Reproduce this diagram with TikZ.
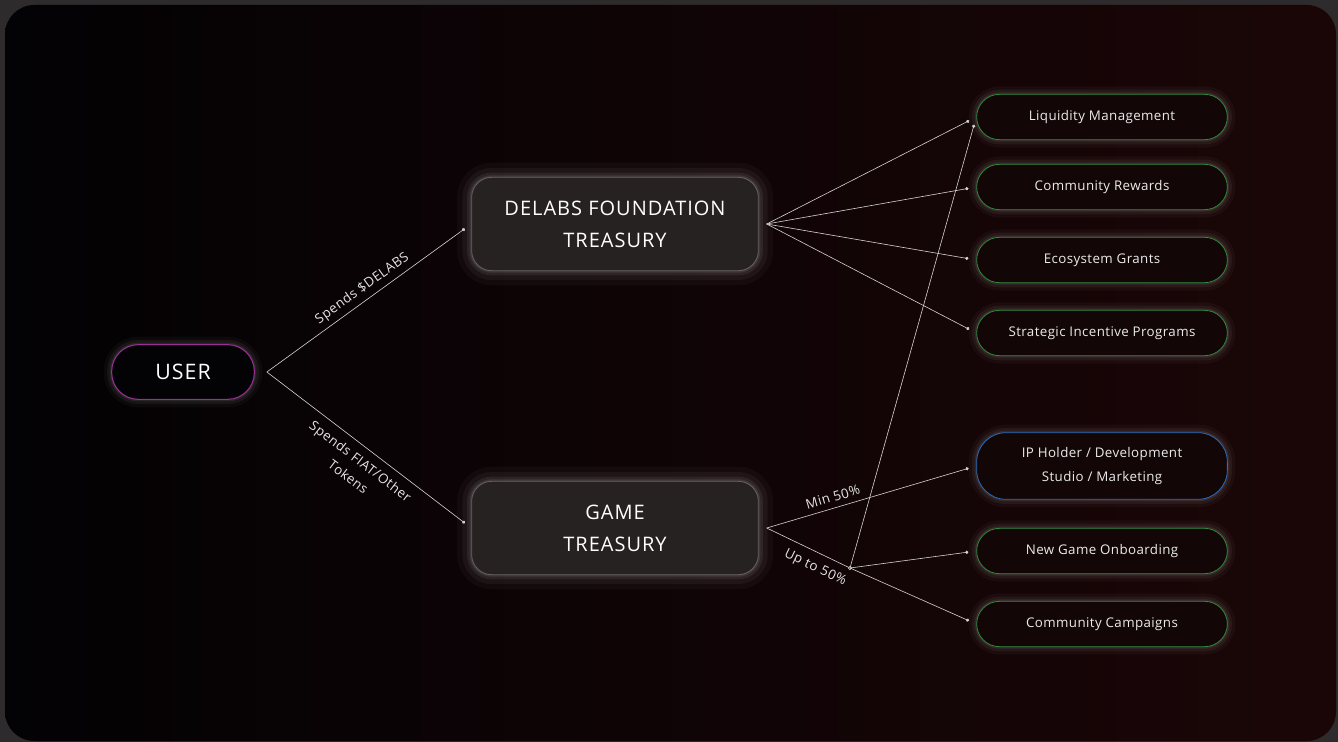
\documentclass[tikz,border=0pt]{standalone}
\usepackage{fontspec}
\setmainfont{Open Sans}
\usetikzlibrary{arrows.meta}
\definecolor{frame}{HTML}{2D2B2B}
\definecolor{bgleft}{HTML}{030204}
\definecolor{bgright}{HTML}{1B0607}
\definecolor{boxfill}{HTML}{262222}
\definecolor{boxline}{HTML}{676161}
\definecolor{pillfill}{HTML}{120607}
\definecolor{usercol}{HTML}{9A2E94}
\definecolor{greencol}{HTML}{2E8A3B}
\definecolor{bluecol}{HTML}{2A6CBD}
\definecolor{wire}{HTML}{D6D4D4}
\tikzset{
  glow/.style={preaction={draw=white,line width=12pt,opacity=0.03},
               preaction={draw=white,line width=7pt,opacity=0.05},
               preaction={draw=white,line width=3pt,opacity=0.07}},
  bigglow/.style={preaction={draw=white,line width=22pt,opacity=0.03},
                  preaction={draw=white,line width=14pt,opacity=0.045},
                  preaction={draw=white,line width=7pt,opacity=0.065},
                  preaction={draw=white,line width=3pt,opacity=0.09}},
  userbox/.style={glow,draw=usercol,fill=bgleft,line width=0.8pt,rounded corners=20pt,
                  minimum width=107pt,minimum height=41pt,inner sep=0pt,
                  text=white,font=\fontsize{16}{19}\selectfont\addfontfeature{LetterSpace=5}},
  treasury/.style={bigglow,draw=boxline,fill=boxfill,line width=0.6pt,rounded corners=15pt,
                   minimum width=215pt,minimum height=70pt,inner sep=0pt,align=center,
                   text=white,font=\fontsize{15}{24}\selectfont\addfontfeature{LetterSpace=5}},
  target/.style={glow,draw=greencol,fill=pillfill,line width=0.6pt,rounded corners=17pt,
                 minimum width=188pt,minimum height=34pt,inner sep=0pt,align=center,
                 text=white!92!black,font=\fontsize{10}{18}\selectfont\addfontfeature{LetterSpace=3}},
  wire/.style={draw=wire,line width=0.45pt,-{Circle[length=2.4pt]},shorten >=6pt},
  flowlabel/.style={text=white!90!black,align=center,
                    font=\fontsize{10}{15}\selectfont\addfontfeature{LetterSpace=4}}
}
\begin{document}
\begin{tikzpicture}[x=0.75pt,y=-0.75pt]
% frame and background
\fill[frame] (0,0) rectangle (1338,742);
\shade[left color=bgleft,right color=bgright,rounded corners=22pt] (5,5) rectangle (1336,741);
\useasboundingbox (0,0) rectangle (1338,742);

% nodes
\node[userbox] (user) at (183,372) {USER};
\node[treasury] (foundation) at (615,224) {DELABS FOUNDATION\\TREASURY};
\node[treasury] (game) at (615,528) {GAME\\TREASURY};

\node[target] (liquidity) at (1102,117) {Liquidity Management};
\node[target] (rewards) at (1102,187) {Community Rewards};
\node[target] (grants) at (1102,260) {Ecosystem Grants};
\node[target] (incentive) at (1102,333) {Strategic Incentive Programs};
\node[target,draw=bluecol,minimum height=50pt,rounded corners=22pt] (studio) at (1102,466)
  {IP Holder / Development\\Studio / Marketing};
\node[target] (onboarding) at (1102,551) {New Game Onboarding};
\node[target] (campaigns) at (1102,624) {Community Campaigns};

% exit points
\coordinate (userout) at ([xshift=9pt]user.east);
\coordinate (fndout) at ([xshift=6pt]foundation.east);
\coordinate (gameout) at ([xshift=6pt]game.east);
\coordinate (split) at (850,568);

% user to treasuries
\draw[wire] (userout) -- node[flowlabel,sloped,above,pos=0.5]{Spends \$DELABS} (foundation.west);
\draw[wire] (userout) -- node[flowlabel,sloped,below=3pt,pos=0.5]{Spends FIAT/Other\\Tokens} (game.west);

% foundation outflows
\foreach \t in {liquidity,rewards,grants,incentive}
  \draw[wire] (fndout) -- (\t.west);

% game outflows
\draw[wire] (gameout) -- node[flowlabel,sloped,above=1pt,pos=0.33]{Min 50\%} (studio.west);
\draw[wire,-,shorten >=0pt] (gameout) -- node[flowlabel,sloped,below=3pt,pos=0.66]{Up to 50\%} (split);
\fill[wire] (split) circle (1.2pt);
\foreach \t in {liquidity,onboarding,campaigns}
  \draw[wire] (split) -- (\t.west);
\end{tikzpicture}
\end{document}
